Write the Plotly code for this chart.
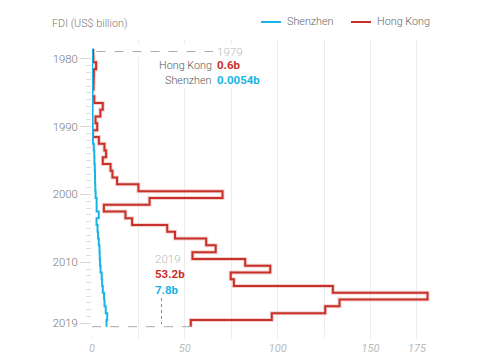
import plotly.graph_objects as go

# ---------------- data ----------------
years = list(range(1979, 2020))
hong_kong = [0.6, 0.7, 2.2, 1.0, 0.9, 0.8, 0.1, 1.2, 5.8, 4.5, 1.9,
             2.8, 0.4, 3.7, 6.7, 7.6, 5.8, 10.0, 11.0, 13.5, 25.0,
             70.3, 31.0, 6.4, 18.0, 21.6, 40.5, 44.7, 61.5, 66.6, 54.1,
             82.5, 96.0, 74.7, 76.4, 129.7, 180.7, 133.3, 125.6, 96.8, 53.2]
shenzhen = [0.0054, 0.011, 0.06, 0.06, 0.13, 0.2, 0.18, 0.24, 0.3, 0.3, 0.3,
            0.39, 0.4, 0.45, 0.94, 1.22, 1.31, 1.5, 1.61, 1.67, 1.78,
            1.96, 2.48, 2.49, 3.62, 2.44, 2.97, 3.27, 3.66, 4.03, 4.16,
            4.30, 4.60, 5.23, 5.47, 5.81, 6.50, 6.73, 7.40, 8.20, 7.80]
year_ticks = [1980, 1990, 2000, 2010, 2019]
x_ticks = [0, 50, 100, 150, 175]
x_minor = [25, 75, 125]

HK_COLOR = "#c8302a"
SZ_COLOR = "#17b4e6"
FONT = "Roboto"
LIGHT = 10.8

# ---------------- layout geometry ----------------
W, H = 480, 361
L, R, T, B = 92, 40, 40, 27
PW, PH = W - L - R, H - T - B
X_RANGE = [0, 187.4]
Y_TOP, Y_BOT = 1977.2, 2020.58


def py2year(py):
    return Y_TOP + (py - T) / PH * (Y_BOT - Y_TOP)


def px2val(px):
    return X_RANGE[0] + (px - L) / PW * (X_RANGE[1] - X_RANGE[0])


def ppx(px):
    return (px - L) / PW


def ppy(py):
    return 1 - (py - T) / PH


def step_xy(vals):
    xs = list(vals) + [vals[-1]]
    ys = [y - 0.5 for y in years] + [years[-1] + 0.5]
    return xs, ys


fig = go.Figure()

hx, hy = step_xy(hong_kong)
sx, sy = step_xy(shenzhen)

fig.add_trace(go.Scatter(x=hx, y=hy, mode="lines", line_shape="vh",
                         line=dict(color="rgba(200,48,42,0.22)", width=4),
                         hoverinfo="skip", showlegend=False))
fig.add_trace(go.Scatter(x=hx, y=hy, mode="lines", line_shape="vh", name="Hong Kong",
                         line=dict(color=HK_COLOR, width=2), showlegend=False))
fig.add_trace(go.Scatter(x=sx, y=sy, mode="lines", line_shape="vh", name="Shenzhen",
                         line=dict(color=SZ_COLOR, width=2), showlegend=False))

shapes = []
annotations = []

# top call-out (first year)
y_top_line = py2year(51.5)
shapes.append(dict(type="rect", layer="between", xref="x", yref="y",
                   x0=px2val(99), x1=px2val(246), y0=py2year(44), y1=py2year(57.5),
                   fillcolor="white", line=dict(width=0)))
shapes.append(dict(type="line", xref="x", yref="y", x0=px2val(96.5), x1=px2val(213),
                   y0=y_top_line, y1=y_top_line, line=dict(color="#aaaaaa", width=1, dash="dash")))
annotations.append(dict(xref="x", yref="y", x=px2val(215), y=y_top_line, text=str(years[0]),
                        xanchor="left", yanchor="middle", showarrow=False,
                        font=dict(family=FONT, size=11.5, color="#bbbbbb", weight=300)))
for label, val, col, py in [("Hong Kong", hong_kong[0], HK_COLOR, 65),
                            ("Shenzhen", shenzhen[0], SZ_COLOR, 80)]:
    annotations.append(dict(xref="x", yref="y", x=px2val(213.5), y=py2year(py), text=label,
                            xanchor="right", yanchor="middle", showarrow=False, bgcolor="white",
                            font=dict(family=FONT, size=LIGHT, color="#555555", weight=300)))
    annotations.append(dict(xref="x", yref="y", x=px2val(215), y=py2year(py), text=f"<b>{val}b</b>",
                            xanchor="left", yanchor="middle", showarrow=False, bgcolor="white",
                            font=dict(family=FONT, size=11.5, color=col)))

# bottom call-out (last year)
y_bot_line = years[-1] + 0.5
shapes.append(dict(type="line", xref="x", yref="y", x0=0, x1=hong_kong[-1],
                   y0=y_bot_line, y1=y_bot_line, line=dict(color="#aaaaaa", width=1, dash="dash")))
shapes.append(dict(type="line", xref="x", yref="y", x0=px2val(161.5), x1=px2val(161.5),
                   y0=py2year(298), y1=py2year(324), line=dict(color="#888888", width=1, dash="dot")))
for txt, col, py, bold in [(str(years[-1]), "#bbbbbb", 259, False),
                           (f"{hong_kong[-1]}b", HK_COLOR, 274, True),
                           (f"{shenzhen[-1]}b", SZ_COLOR, 290, True)]:
    annotations.append(dict(xref="x", yref="y", x=px2val(152.5), y=py2year(py),
                            text=f"<b>{txt}</b>" if bold else txt,
                            xanchor="left", yanchor="middle", showarrow=False,
                            font=dict(family=FONT, size=11.5, color=col,
                                      weight=700 if bold else 300)))

# axis title
annotations.append(dict(xref="paper", yref="paper", x=ppx(50), y=ppy(23), text="FDI (US$ billion)",
                        xanchor="left", yanchor="middle", showarrow=False,
                        font=dict(family=FONT, size=LIGHT, color="#777777", weight=300)))
# manual legend
for name, col, x0 in [("Shenzhen", SZ_COLOR, 261), ("Hong Kong", HK_COLOR, 351)]:
    shapes.append(dict(type="line", xref="paper", yref="paper", x0=ppx(x0), x1=ppx(x0 + 20),
                       y0=ppy(22), y1=ppy(22), line=dict(color=col, width=2)))
    annotations.append(dict(xref="paper", yref="paper", x=ppx(x0 + 24), y=ppy(22), text=name,
                            xanchor="left", yanchor="middle", showarrow=False,
                            font=dict(family=FONT, size=LIGHT, color="#666666", weight=300)))

fig.update_layout(
    width=W, height=H,
    autosize=False,
    margin=dict(l=L, r=R, t=T, b=B),
    paper_bgcolor="white", plot_bgcolor="white",
    font=dict(family=FONT, size=11, color="#777777"),
    hovermode=False,
    shapes=shapes, annotations=annotations,
    xaxis=dict(range=X_RANGE, tickvals=x_ticks, ticktext=[str(v) for v in x_ticks],
               automargin=False,
               showgrid=True, gridcolor="#ececec", gridwidth=1, zeroline=False, showline=False,
               ticks="outside", ticklen=4, tickcolor="#ececec",
               tickfont=dict(family=FONT, size=11, color="#bbbbbb", style="italic"),
               minor=dict(tickvals=x_minor, showgrid=True, gridcolor="#ececec", gridwidth=1,
                          ticks="outside", ticklen=4, tickcolor="#ececec"),
               fixedrange=True),
    yaxis=dict(range=[Y_BOT, Y_TOP], tickvals=year_ticks, ticktext=[str(v) for v in year_ticks],
               automargin=False,
               showgrid=False, zeroline=False, showline=False,
               ticks="outside", ticklen=11, tickcolor="#d9d9d9",
               tickfont=dict(family=FONT, size=11.3, color="#777777", weight=300),
               minor=dict(tickvals=[y for y in years[2:-1] if y not in year_ticks],
                          ticks="outside", ticklen=5, tickcolor="#dedede", showgrid=False),
               fixedrange=True),
)

fig.write_html("out.html",
               config={"displayModeBar": False, "responsive": False},
               post_script="document.body.style.margin='0';document.body.style.overflow='hidden';")
